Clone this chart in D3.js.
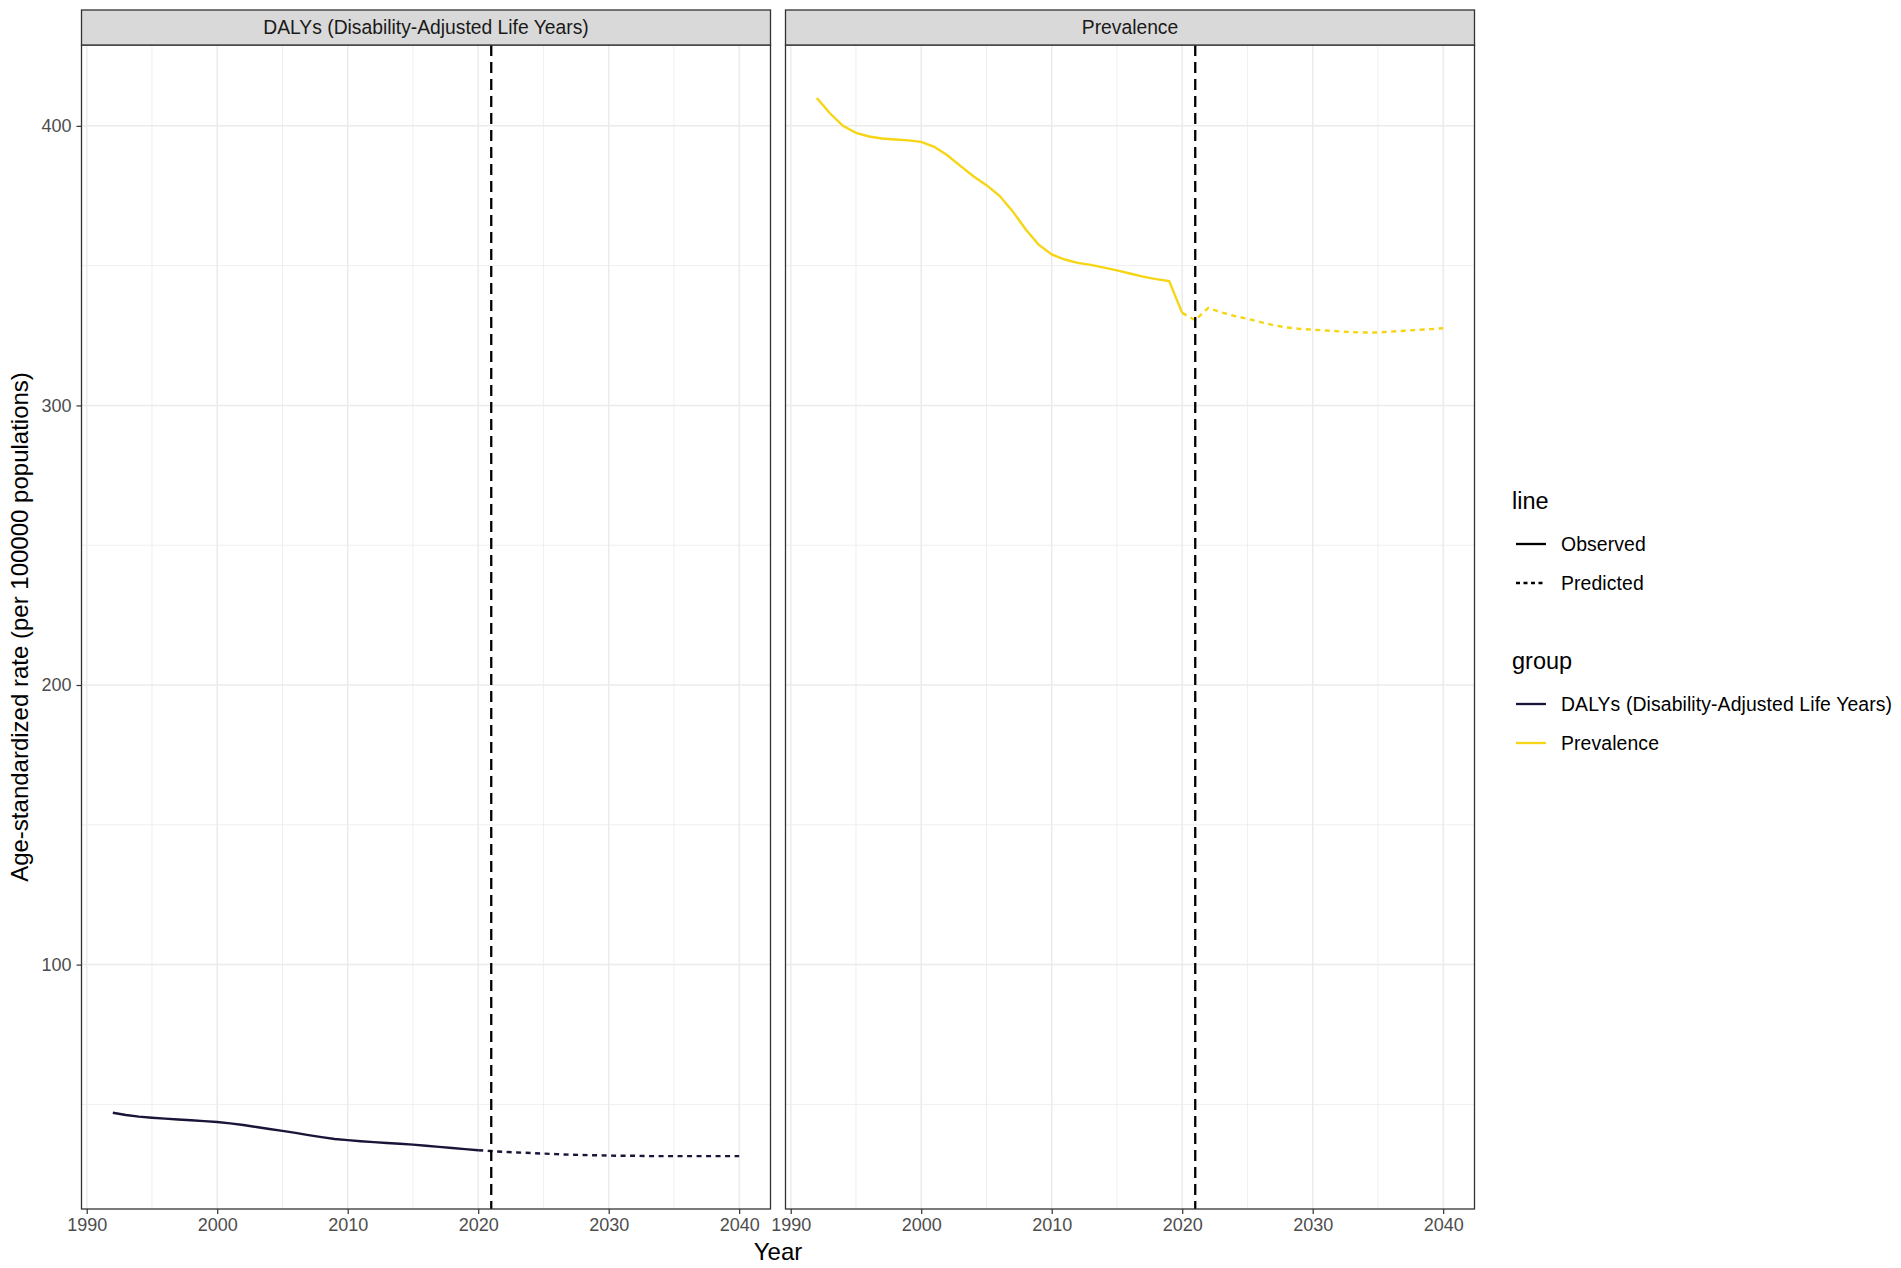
<!DOCTYPE html>
<html lang="en">
<head>
<meta charset="UTF-8">
<title>Age-standardized rate - DALYs and Prevalence</title>
<script src="https://d3js.org/d3.v7.min.js"></script>
<style>
  body { margin: 0; background: #fff; font-family: "Liberation Sans", Arial, sans-serif; }
  svg { display: block; }
  .strip-text { font-size: 19.3px; fill: #1a1a1a; }
  .tick text { font-size: 18px; fill: #4d4d4d; font-family: "Liberation Sans", Arial, sans-serif; }
  .tick line { stroke: #333; stroke-width: 1.2px; }
  .axis-title { font-size: 24px; fill: #000; }
  .legend-title { font-size: 23.5px; fill: #000; }
  .legend-label { font-size: 19.4px; fill: #000; letter-spacing: 0.1px; }
</style>
</head>
<body>
<svg id="chart"></svg>
<script>
// facets and colours
const facets = ["DALYs (Disability-Adjusted Life Years)", "Prevalence"];
const groupColors = ["#1c1338", "#f6d514"];

// observed years and predicted years
const obsYears = [1992, 1993, 1994, 1995, 1996, 1997, 1998, 1999, 2000, 2001,
                  2002, 2003, 2004, 2005, 2006, 2007, 2008, 2009, 2010, 2011,
                  2012, 2013, 2014, 2015, 2016, 2017, 2018, 2019, 2020];
const predYears = [2020, 2021, 2022, 2023, 2024, 2025, 2026, 2027, 2028, 2029, 2030,
                   2031, 2032, 2033, 2034, 2035, 2036, 2037, 2038, 2039, 2040];

// DALYs rate (per 100000)
const dalyObserved = [47.0, 46.2, 45.6, 45.2, 44.9, 44.6, 44.3, 44.0, 43.7, 43.2,
                      42.6, 41.9, 41.2, 40.5, 39.8, 39.0, 38.3, 37.6, 37.2, 36.8,
                      36.5, 36.2, 35.9, 35.6, 35.2, 34.8, 34.4, 34.0, 33.6];
const dalyPredicted = [33.6, 33.3, 33.0, 32.8, 32.6, 32.4, 32.2, 32.0, 31.9, 31.8, 31.7,
                       31.6, 31.6, 31.5, 31.5, 31.5, 31.5, 31.5, 31.5, 31.5, 31.5];

// Prevalence rate (per 100000)
const prevObserved = [410.0, 404.5, 400.0, 397.5, 396.2, 395.5, 395.1, 394.8, 394.3, 392.5,
                      389.5, 385.7, 382.0, 378.8, 375.0, 369.5, 363.0, 357.5, 354.0, 352.2,
                      351.0, 350.3, 349.3, 348.3, 347.2, 346.1, 345.2, 344.5, 333.1];
const prevPredicted = [333.1, 330.5, 334.9, 333.3, 332.0, 331.0, 329.8, 328.7, 327.9, 327.4, 327.1,
                       326.8, 326.5, 326.2, 326.1, 326.1, 326.4, 326.7, 327.0, 327.3, 327.6];

// axes
const xTicks = [1990, 2000, 2010, 2020, 2030, 2040];
const xMinor = [1995, 2005, 2015, 2025, 2035];
const yTicks = [100, 200, 300, 400];
const yMinor = [50, 150, 250, 350];
const cutYear = 2021;

const W = 1901, H = 1268;
const panelLeft = [81.5, 785.5], panelW = 689;
const stripTop = 10, plotTop = 45, plotBottom = 1209;

const svg = d3.select("#chart").attr("width", W).attr("height", H);

// build series table
const panelData = [
    { obs: obsYears.map((y, i) => ({ year: y, value: dalyObserved[i] })),
      pred: predYears.map((y, i) => ({ year: y, value: dalyPredicted[i] })) },
    { obs: obsYears.map((y, i) => ({ year: y, value: prevObserved[i] })),
      pred: predYears.map((y, i) => ({ year: y, value: prevPredicted[i] })) }
];

// ggplot-like 5% expansion
function expand(ext) {
    const d = (ext[1] - ext[0]) * 0.05;
    return [ext[0] - d, ext[1] + d];
}
const allVals = dalyObserved.concat(dalyPredicted, prevObserved, prevPredicted);
const allYears = obsYears.concat(predYears);
const yScale = d3.scaleLinear().domain(expand(d3.extent(allVals))).range([plotBottom, plotTop]);
const xDomain = expand(d3.extent(allYears));

facets.forEach((name, p) => {
    const x0 = panelLeft[p];
    const x = d3.scaleLinear().domain(xDomain).range([x0, x0 + panelW]);
    const g = svg.append("g");

    // grid
    g.selectAll(".gx-minor").data(xMinor).enter().append("line")
        .attr("x1", d => x(d)).attr("x2", d => x(d))
        .attr("y1", plotTop).attr("y2", plotBottom)
        .attr("stroke", "#ebebeb").attr("stroke-width", 0.8);
    g.selectAll(".gy-minor").data(yMinor).enter().append("line")
        .attr("x1", x0).attr("x2", x0 + panelW)
        .attr("y1", d => yScale(d)).attr("y2", d => yScale(d))
        .attr("stroke", "#ebebeb").attr("stroke-width", 0.8);
    g.selectAll(".gx").data(xTicks).enter().append("line")
        .attr("x1", d => x(d)).attr("x2", d => x(d))
        .attr("y1", plotTop).attr("y2", plotBottom)
        .attr("stroke", "#ebebeb").attr("stroke-width", 1.5);
    g.selectAll(".gy").data(yTicks).enter().append("line")
        .attr("x1", x0).attr("x2", x0 + panelW)
        .attr("y1", d => yScale(d)).attr("y2", d => yScale(d))
        .attr("stroke", "#ebebeb").attr("stroke-width", 1.5);

    const line = d3.line().x(d => x(d.year)).y(d => yScale(d.value));

    g.append("path").datum(panelData[p].obs)
        .attr("d", line).attr("fill", "none")
        .attr("stroke", groupColors[p]).attr("stroke-width", 2.4);
    g.append("path").datum(panelData[p].pred)
        .attr("d", line).attr("fill", "none")
        .attr("stroke", groupColors[p]).attr("stroke-width", 2.4)
        .attr("stroke-dasharray", "5,4.5");

    // cut-off line
    g.append("line")
        .attr("x1", x(cutYear)).attr("x2", x(cutYear))
        .attr("y1", plotTop).attr("y2", plotBottom)
        .attr("stroke", "#000").attr("stroke-width", 2.3)
        .attr("stroke-dasharray", "11,6");

    // panel border
    g.append("rect")
        .attr("x", x0).attr("y", plotTop).attr("width", panelW).attr("height", plotBottom - plotTop)
        .attr("fill", "none").attr("stroke", "#333").attr("stroke-width", 1.3);

    // strip
    g.append("rect")
        .attr("x", x0).attr("y", stripTop).attr("width", panelW).attr("height", plotTop - stripTop)
        .attr("fill", "#d9d9d9").attr("stroke", "#333").attr("stroke-width", 1.3);
    g.append("text").attr("class", "strip-text")
        .attr("x", x0 + panelW / 2).attr("y", (stripTop + plotTop) / 2)
        .attr("text-anchor", "middle").attr("dominant-baseline", "central")
        .text(name);

    // x axis
    const xa = g.append("g").attr("transform", `translate(0,${plotBottom})`)
        .call(d3.axisBottom(x).tickValues(xTicks).tickFormat(d3.format("d")).tickSize(5).tickPadding(4));
    xa.select(".domain").remove();

    if (p === 0) {
        const ya = g.append("g").attr("transform", `translate(${x0},0)`)
            .call(d3.axisLeft(yScale).tickValues(yTicks).tickSize(5).tickPadding(5));
        ya.select(".domain").remove();
    }
});

// axis titles
svg.append("text").attr("class", "axis-title")
    .attr("x", (panelLeft[0] + panelLeft[1] + panelW) / 2).attr("y", 1251)
    .attr("text-anchor", "middle").attr("dominant-baseline", "central")
    .text("Year");
svg.append("text").attr("class", "axis-title")
    .attr("transform", `translate(19,${(plotTop + plotBottom) / 2}) rotate(-90)`)
    .attr("text-anchor", "middle").attr("dominant-baseline", "central")
    .text("Age-standardized rate (per 100000 populations)");

// legend
const lg = svg.append("g");
const keyX1 = 1516, keyX2 = 1546, labelX = 1561, titleX = 1512;
lg.append("text").attr("class", "legend-title").attr("x", titleX).attr("y", 501)
    .attr("dominant-baseline", "central").text("line");
const lineTypes = [{ label: "Observed", dash: null, y: 544 }, { label: "Predicted", dash: "4,3.5", y: 583 }];
lineTypes.forEach(d => {
    lg.append("line").attr("x1", keyX1).attr("x2", keyX2).attr("y1", d.y).attr("y2", d.y)
        .attr("stroke", "#000").attr("stroke-width", 2.3).attr("stroke-dasharray", d.dash);
    lg.append("text").attr("class", "legend-label").attr("x", labelX).attr("y", d.y)
        .attr("dominant-baseline", "central").text(d.label);
});
lg.append("text").attr("class", "legend-title").attr("x", titleX).attr("y", 661)
    .attr("dominant-baseline", "central").text("group");
const groupY = [704, 743];
facets.forEach((name, i) => {
    lg.append("line").attr("x1", keyX1).attr("x2", keyX2).attr("y1", groupY[i]).attr("y2", groupY[i])
        .attr("stroke", groupColors[i]).attr("stroke-width", 2.3);
    lg.append("text").attr("class", "legend-label").attr("x", labelX).attr("y", groupY[i])
        .attr("dominant-baseline", "central").text(name);
});
</script>
</body>
</html>
